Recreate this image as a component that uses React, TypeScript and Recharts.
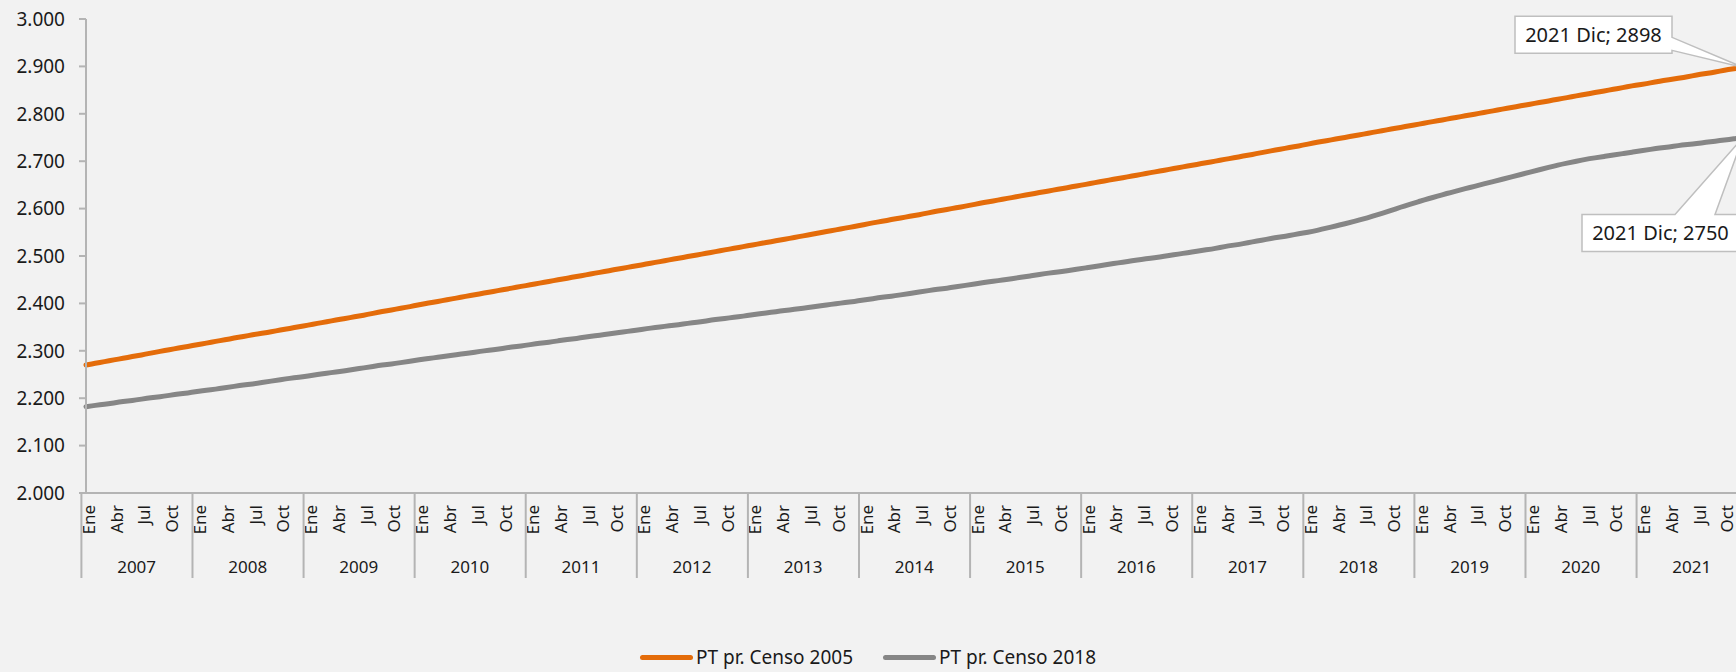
import React from 'react';
import { LineChart, Line, XAxis, YAxis, Legend, LabelList } from 'recharts';

const MONTHS = ['Ene', 'Feb', 'Mar', 'Abr', 'May', 'Jun', 'Jul', 'Ago', 'Sep', 'Oct', 'Nov', 'Dic'];
const YEARS = [2007, 2008, 2009, 2010, 2011, 2012, 2013, 2014, 2015, 2016, 2017, 2018, 2019, 2020, 2021];
const Y_TICKS = [2000, 2100, 2200, 2300, 2400, 2500, 2600, 2700, 2800, 2900, 3000];

// PT proyectada con Censo 2005 (miles), Ene..Dic por año
const CENSO_2005 = [
  2270, 2274, 2277, 2281, 2284, 2288, 2291, 2295, 2299, 2302, 2306, 2309, // 2007
  2313, 2316, 2320, 2323, 2327, 2330, 2334, 2337, 2340, 2344, 2347, 2351, // 2008
  2354, 2358, 2361, 2365, 2368, 2372, 2375, 2379, 2383, 2386, 2390, 2393, // 2009
  2397, 2401, 2404, 2408, 2411, 2415, 2418, 2422, 2425, 2429, 2432, 2436, // 2010
  2439, 2443, 2446, 2450, 2453, 2457, 2460, 2464, 2467, 2471, 2474, 2478, // 2011
  2481, 2485, 2488, 2492, 2495, 2499, 2502, 2506, 2509, 2513, 2516, 2520, // 2012
  2523, 2527, 2530, 2534, 2537, 2541, 2544, 2548, 2552, 2555, 2559, 2562, // 2013
  2566, 2570, 2573, 2577, 2580, 2584, 2587, 2591, 2595, 2598, 2602, 2605, // 2014
  2609, 2613, 2616, 2620, 2623, 2627, 2630, 2634, 2637, 2641, 2644, 2648, // 2015
  2651, 2655, 2658, 2662, 2665, 2669, 2672, 2676, 2679, 2683, 2686, 2690, // 2016
  2693, 2697, 2700, 2704, 2707, 2711, 2714, 2718, 2722, 2725, 2729, 2732, // 2017
  2736, 2740, 2743, 2747, 2750, 2754, 2757, 2761, 2764, 2768, 2771, 2775, // 2018
  2778, 2782, 2785, 2789, 2792, 2796, 2799, 2803, 2806, 2810, 2813, 2817, // 2019
  2820, 2824, 2827, 2831, 2834, 2838, 2841, 2845, 2848, 2852, 2855, 2859, // 2020
  2862, 2865, 2869, 2872, 2875, 2878, 2882, 2885, 2888, 2892, 2895, 2898, // 2021
];

// PT proyectada con Censo 2018 (miles)
const CENSO_2018 = [
  2182, 2185, 2187, 2190, 2193, 2195, 2198, 2201, 2203, 2206, 2209, 2211, // 2007
  2214, 2217, 2219, 2222, 2225, 2228, 2230, 2233, 2236, 2239, 2242, 2244, // 2008
  2247, 2250, 2253, 2255, 2258, 2261, 2264, 2267, 2270, 2272, 2275, 2278, // 2009
  2281, 2284, 2286, 2289, 2292, 2294, 2297, 2300, 2302, 2305, 2308, 2310, // 2010
  2313, 2316, 2318, 2321, 2324, 2326, 2329, 2332, 2334, 2337, 2340, 2342, // 2011
  2345, 2348, 2350, 2353, 2355, 2358, 2360, 2363, 2366, 2368, 2371, 2373, // 2012
  2376, 2379, 2381, 2384, 2386, 2389, 2391, 2394, 2397, 2399, 2402, 2404, // 2013
  2407, 2410, 2413, 2415, 2418, 2421, 2424, 2427, 2430, 2432, 2435, 2438, // 2014
  2441, 2444, 2447, 2449, 2452, 2455, 2458, 2461, 2464, 2466, 2469, 2472, // 2015
  2475, 2478, 2481, 2484, 2487, 2490, 2493, 2495, 2498, 2501, 2504, 2507, // 2016
  2510, 2513, 2516, 2520, 2523, 2526, 2530, 2533, 2537, 2540, 2543, 2547, // 2017
  2550, 2554, 2559, 2563, 2568, 2573, 2578, 2584, 2590, 2596, 2603, 2609, // 2018
  2615, 2621, 2626, 2632, 2637, 2642, 2647, 2652, 2657, 2662, 2667, 2672, // 2019
  2677, 2682, 2687, 2692, 2696, 2700, 2704, 2707, 2710, 2713, 2716, 2719, // 2020
  2722, 2725, 2728, 2730, 2733, 2735, 2737, 2740, 2742, 2745, 2747, 2750, // 2021
];

const data = YEARS.flatMap((year, yi) =>
  MONTHS.map((month, mi) => ({
    key: `${year}-${month}`,
    year,
    month,
    c2005: CENSO_2005[yi * 12 + mi],
    c2018: CENSO_2018[yi * 12 + mi],
  }))
);
const LAST = data.length - 1;

const CHART_W = 1744;
const CHART_H = 672;
const Y_AXIS_W = 86;
const MARGIN = { top: 19, right: 1, bottom: 0, left: 0 };
const BAND = (CHART_W - MARGIN.right - MARGIN.left - Y_AXIS_W) / data.length;

const ORANGE = '#E46C0A';
const GRAY = '#868686';
const AXIS = '#B4B4B4';
const TEXT = '#1a1a1a';
const FONT = "'Noto Sans', sans-serif";

const fmtThousands = (v: number) => `${Math.floor(v / 1000)}.${String(v % 1000).padStart(3, '0')}`;

function MonthTick(props: any) {
  const { x, y, index } = props;
  const d = data[index];
  if (!d) return null;
  const left = x - BAND / 2;
  return (
    <g>
      {index % 3 === 0 && (
        <text
          x={x + 3}
          y={y + 12}
          transform={`rotate(-90, ${x + 3}, ${y + 12})`}
          textAnchor="end"
          dy="0.35em"
          fontSize={17}
          fill={TEXT}
          fontFamily={FONT}
        >
          {d.month}
        </text>
      )}
      {index % 12 === 0 && (
        <>
          <line x1={left} y1={y} x2={left} y2={y + 85} stroke={AXIS} strokeWidth={2} />
          <text x={left + BAND * 6} y={y + 80} textAnchor="middle" fontSize={17} fill={TEXT} fontFamily={FONT}>
            {d.year}
          </text>
        </>
      )}
      {index === LAST && <line x1={x + BAND / 2} y1={y} x2={x + BAND / 2} y2={y + 85} stroke={AXIS} strokeWidth={2} />}
    </g>
  );
}

// callout box with a wedge pointing at the last point
function Callout(props: any, dir: 'up' | 'down') {
  const { x, y, value, index } = props;
  if (index !== LAST) return null;
  const label = `${data[index].year} ${data[index].month}; ${value}`;
  let L, R, T, B, path;
  if (dir === 'up') {
    L = x - 228; R = x - 71; T = y - 51; B = y - 14;
    path = `M${L},${T} H${R} V${y - 30} L${x},${y} L${R},${y - 17} V${B} H${L} Z`;
  } else {
    L = x - 161; R = x - 4; T = y + 77; B = y + 114;
    path = `M${L},${T} H${x - 68} L${x},${y} L${x - 28},${T} H${R} V${B} H${L} Z`;
  }
  return (
    <g>
      <path d={path} fill="#ffffff" stroke="#BFBFBF" strokeWidth={1.5} />
      <text x={(L + R) / 2} y={(T + B) / 2} dy="0.36em" textAnchor="middle" fontSize={20} fill={TEXT} fontFamily={FONT}>
        {label}
      </text>
    </g>
  );
}

function LegendContent() {
  const items = [
    { name: 'PT pr. Censo 2005', color: ORANGE },
    { name: 'PT pr. Censo 2018', color: GRAY },
  ];
  return (
    <div style={{ width: 1736, height: 30, display: 'flex', justifyContent: 'center', alignItems: 'center', gap: 30, fontFamily: FONT, fontSize: 19, color: TEXT }}>
      {items.map((it) => (
        <div key={it.name} style={{ display: 'flex', alignItems: 'center' }}>
          <span style={{ display: 'inline-block', width: 53, height: 5, borderRadius: 3, background: it.color, marginRight: 3 }} />
          <span>{it.name}</span>
        </div>
      ))}
    </div>
  );
}

export default function App() {
  return (
    <div style={{ position: 'absolute', left: 0, top: 0, width: 1736, height: 672, overflow: 'hidden', background: '#F2F2F2', fontFamily: FONT }}>
      <LineChart width={CHART_W} height={CHART_H} data={data} margin={MARGIN}>
        <XAxis
          dataKey="key"
          interval={0}
          height={149}
          tickSize={0}
          tickMargin={0}
          tickLine={false}
          axisLine={{ stroke: AXIS, strokeWidth: 2 }}
          tick={<MonthTick />}
        />
        <YAxis
          width={Y_AXIS_W}
          domain={[2000, 3000]}
          ticks={Y_TICKS}
          interval={0}
          tickFormatter={fmtThousands}
          tickSize={7}
          tickMargin={14}
          axisLine={{ stroke: AXIS, strokeWidth: 2 }}
          tickLine={{ stroke: AXIS, strokeWidth: 2 }}
          tick={{ fill: TEXT, fontSize: 19, fontFamily: FONT }}
        />
        <Legend verticalAlign="bottom" height={30} wrapperStyle={{ left: 0, width: 1736 }} content={<LegendContent />} />
        <Line type="basis" dataKey="c2005" name="PT pr. Censo 2005" stroke={ORANGE} strokeWidth={5} dot={false} strokeLinecap="round" isAnimationActive={false}>
          <LabelList dataKey="c2005" content={(p: any) => Callout(p, 'up')} />
        </Line>
        <Line type="basis" dataKey="c2018" name="PT pr. Censo 2018" stroke={GRAY} strokeWidth={5} dot={false} strokeLinecap="round" isAnimationActive={false}>
          <LabelList dataKey="c2018" content={(p: any) => Callout(p, 'down')} />
        </Line>
      </LineChart>
    </div>
  );
}
